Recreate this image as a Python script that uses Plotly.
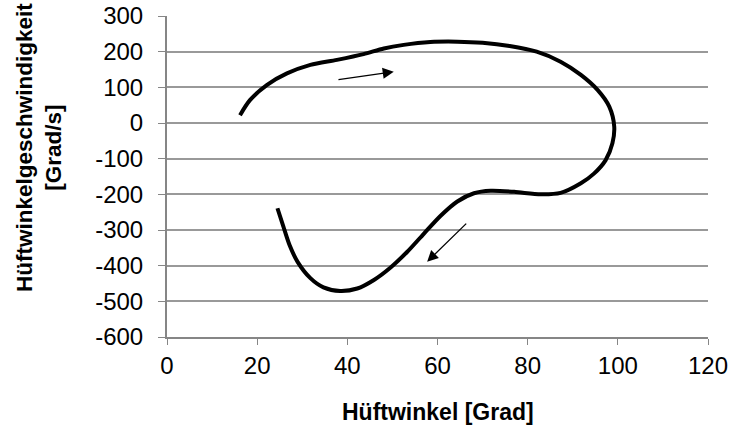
import plotly.graph_objects as go

# Hip angle [deg] and hip angular velocity [deg/s]
hip_angle = [16.2, 18.4, 22.2, 26.6, 31.8, 37.7, 43.6, 48.1, 52.5, 58.4, 64.4, 70.0,
             76.0, 82.0, 87.3, 91.8, 95.5, 98.1, 99.2, 98.8, 97.3, 94.7, 91.8,
             87.3, 82.9, 77.0, 71.8, 68.1, 64.4, 60.7, 57.0, 53.3, 49.6, 45.9, 42.2,
             38.4, 34.7, 31.8, 29.0, 27.2, 25.8, 24.5]
hip_velocity = [22, 64, 107, 139, 163, 177, 193, 209, 219, 227, 228, 225,
                216, 200, 172, 135, 93, 46, -10, -57, -104, -142, -169,
                -196, -200, -193, -190, -197, -220, -260, -310, -361, -405, -440, -464,
                -471, -461, -435, -390, -343, -290, -239]

# Direction arrows: (tail_x, tail_y, head_x, head_y)
arrows = [(37.7, 121, 50.3, 144), (66.7, -278, 57.7, -389)]

x_ticks = [0, 20, 40, 60, 80, 100, 120]
y_ticks = [300, 200, 100, 0, -100, -200, -300, -400, -500, -600]
y_tick_text = ["300", "200", "100", "0", "-100", "-200", "-300", "-400", "-500", "-600"]

fig = go.Figure()
fig.add_trace(go.Scatter(x=hip_angle, y=hip_velocity, mode="lines",
                         line=dict(color="black", width=4, shape="spline", smoothing=0.8),
                         showlegend=False, hoverinfo="skip"))

for tx, ty, hx, hy in arrows:
    fig.add_annotation(x=hx, y=hy, ax=tx, ay=ty, xref="x", yref="y", axref="x", ayref="y",
                       text="", showarrow=True, arrowhead=2, arrowsize=1.7, arrowwidth=1.3,
                       arrowcolor="black")

font = "Liberation Sans, Arial, sans-serif"
fig.update_layout(
    width=730, height=434,
    margin=dict(l=167, r=22, t=16, b=97),
    paper_bgcolor="white", plot_bgcolor="white",
    font=dict(family=font, size=24, color="black"),
    xaxis=dict(range=[0, 120], tickvals=x_ticks, showgrid=False, zeroline=False,
               showline=True, linecolor="#868686", linewidth=2, ticks="outside",
               ticklen=6, tickcolor="#868686", tickwidth=1, automargin=False,
               ticklabelstandoff=0,
               tickfont=dict(size=24)),
    yaxis=dict(range=[-600, 300], tickvals=y_ticks, ticktext=y_tick_text, showgrid=True,
               gridcolor="#999999", gridwidth=1.5, zeroline=False, showline=True,
               linecolor="#868686", linewidth=2, automargin=False,
               ticks="outside", ticklen=7, tickcolor="#868686", tickwidth=1,
               ticklabelstandoff=10, tickfont=dict(size=24)),
)

fig.add_annotation(text="<b>Hüftwinkel [Grad]</b>", xref="paper", yref="paper",
                   x=0.5, y=(337 - 412) / 321, showarrow=False,
                   font=dict(family=font, size=23, color="black"),
                   xanchor="center", yanchor="middle")

fig.add_annotation(text="<b>Hüftwinkelgeschwindigkeit<br>[Grad/s]</b>", xref="paper", yref="paper",
                   x=(39 - 167) / 541, y=(337 - 148) / 321, textangle=-90, showarrow=False,
                   font=dict(family=font, size=22.5, color="black"), xanchor="center", yanchor="middle")

fig.write_html("out.html")
